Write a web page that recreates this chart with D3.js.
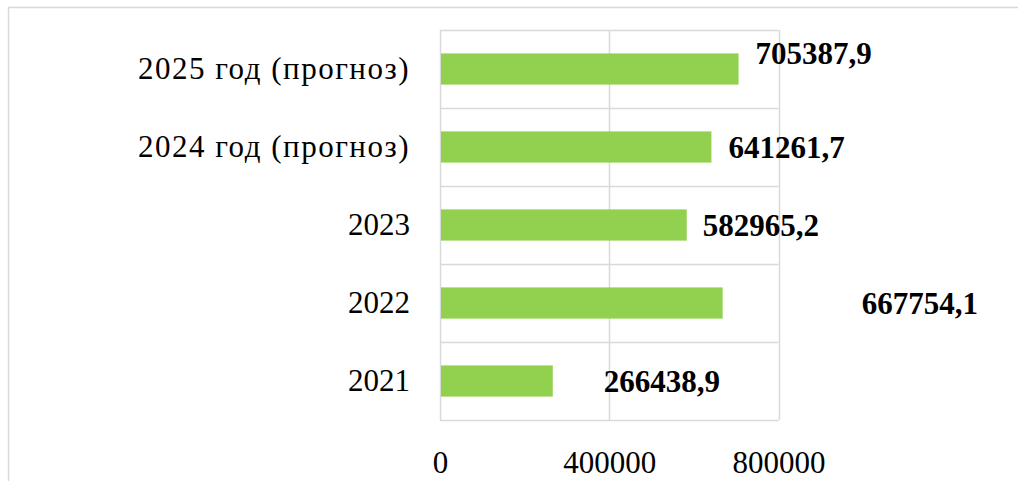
<!DOCTYPE html>
<html><head><meta charset="utf-8">
<script src="https://cdn.jsdelivr.net/npm/d3@7"></script>
<style>html,body{margin:0;padding:0;background:#fff;}svg{display:block;}</style>
</head><body>
<svg id="chart" width="1018" height="481"></svg>
<script>
// Data
const categories = ["2025 год (прогноз)", "2024 год (прогноз)", "2023", "2022", "2021"];
const values = [705387.9, 641261.7, 582965.2, 667754.1, 266438.9];
const valueLabels = ["705387,9", "641261,7", "582965,2", "667754,1", "266438,9"];
const tickValues = [0, 400000, 800000];
const tickLabels = ["0", "400000", "800000"];

// Layout (label offsets as in the original, manually placed)
const labelDx = [17, 17, 16, 139, 51];
const labelDy = [-16, 0, 0, 0, 0];

const W = 1018, H = 481;
const m = {left: 440, right: 778.6, top: 30, bottom: 420};
const FONT = "'Liberation Serif', 'Times New Roman', serif";
const GRID = "#d9d9d9";

const svg = d3.select("#chart");
svg.append("rect").attr("x", 0).attr("y", 0).attr("width", W).attr("height", H).attr("fill", "#fff");
// chart frame (cropped at right and bottom)
svg.append("path").attr("d", `M8.5,${H + 2}V7.5H${W + 2}`).attr("fill", "none").attr("stroke", GRID).attr("stroke-width", 1.5);

const x = d3.scaleLinear().domain([0, 800000]).range([m.left, m.right]);
const y = d3.scaleBand().domain(categories).range([m.top, m.bottom]).paddingInner(0).paddingOuter(0);

// horizontal gridlines at category boundaries
const bounds = categories.map(c => y(c)).concat([m.bottom]);
svg.append("g").selectAll("line").data(bounds).join("line")
  .attr("x1", m.left).attr("x2", m.right)
  .attr("y1", d => Math.round(d) + 0.5).attr("y2", d => Math.round(d) + 0.5)
  .attr("stroke", GRID).attr("stroke-width", 1.5);
// vertical gridlines
svg.append("g").selectAll("line").data(tickValues).join("line")
  .attr("x1", d => Math.round(x(d)) + 0.5).attr("x2", d => Math.round(x(d)) + 0.5)
  .attr("y1", m.top).attr("y2", m.bottom)
  .attr("stroke", GRID).attr("stroke-width", 1.5);

// bars
const barH = y.bandwidth() * 0.4;
svg.append("g").selectAll("rect").data(values).join("rect")
  .attr("x", x(0) + 1)
  .attr("y", (d, i) => y(categories[i]) + (y.bandwidth() - barH) / 2)
  .attr("width", d => x(d) - x(0) - 1)
  .attr("height", barH)
  .attr("fill", "#92d050");

// value labels
svg.append("g").selectAll("text").data(values).join("text")
  .attr("x", (d, i) => x(d) + labelDx[i])
  .attr("y", (d, i) => y(categories[i]) + y.bandwidth() / 2 + labelDy[i])
  .attr("dy", "0.35em")
  .attr("font-family", FONT).attr("font-size", 31).attr("font-weight", "bold")
  .attr("fill", "#000")
  .text((d, i) => valueLabels[i]);

// category axis
const yAxis = d3.axisLeft(y).tickSize(0).tickPadding(30);
const gy = svg.append("g").attr("transform", `translate(${m.left},0)`).call(yAxis);
gy.select(".domain").remove();
gy.selectAll("text").attr("font-family", FONT).attr("font-size", 31).attr("fill", "#000")
  .attr("letter-spacing", d => d.length > 4 ? 1.5 : 0);

// value axis
const xAxis = d3.axisBottom(x).tickValues(tickValues).tickFormat((d, i) => tickLabels[i]).tickSize(0).tickPadding(31);
const gx = svg.append("g").attr("transform", `translate(0,${m.bottom})`).call(xAxis);
gx.select(".domain").remove();
gx.selectAll("text").attr("font-family", FONT).attr("font-size", 31).attr("fill", "#000");
</script>
</body></html>
